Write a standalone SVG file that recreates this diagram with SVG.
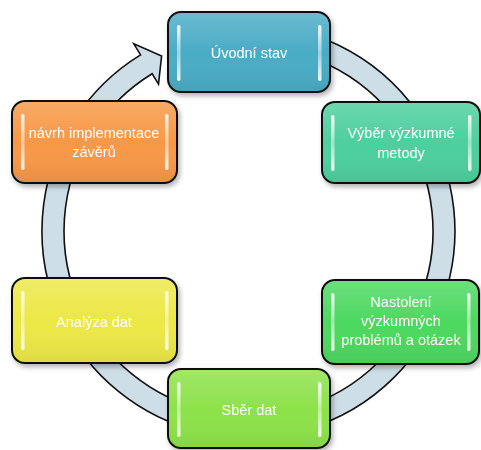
<svg xmlns="http://www.w3.org/2000/svg" width="481" height="450" viewBox="0 0 481 450">
<defs>
<filter id="sh" x="-10%" y="-10%" width="130%" height="140%">
<feDropShadow dx="2" dy="3" stdDeviation="2.5" flood-color="#000" flood-opacity="0.3"/>
</filter>
<linearGradient id="gloss" x1="0" y1="0" x2="0" y2="1">
<stop offset="0" stop-color="#fff" stop-opacity="0.18"/>
<stop offset="0.5" stop-color="#fff" stop-opacity="0"/>
<stop offset="1" stop-color="#000" stop-opacity="0.06"/>
</linearGradient>
<linearGradient id="hl" x1="0" y1="0" x2="0" y2="1">
<stop offset="0" stop-color="#fff" stop-opacity="0.9"/>
<stop offset="0.5" stop-color="#fff" stop-opacity="0.45"/>
<stop offset="1" stop-color="#fff" stop-opacity="0.9"/>
</linearGradient>
</defs>
<style>
.box{stroke:#111;stroke-width:2}
.gl{fill:url(#gloss)}
.hl{fill:url(#hl)}
.t{font-family:"Liberation Sans","Open Sans",sans-serif;font-size:14.5px;fill:#fff;text-anchor:middle}
.ring{fill:#cddee7;stroke:#111;stroke-width:1.6;stroke-linejoin:miter}
</style>
<g id="connectors">
<path class="ring" d="M248.5,24.5 A206.5,206.5 0 1 1 140.6,54.9 L133.8,43.8 L161.6,55.9 L158.5,84.1 L152.1,73.7 A184.5,184.5 0 1 0 248.5,46.5 Z"/>
</g>
<g id="n1" filter="url(#sh)">
<rect class="box" x="168" y="12" width="162" height="80" rx="13" fill="#4aacc6"/>
<rect class="gl" x="169" y="13" width="160" height="78" rx="12"/>
<rect class="hl" x="177" y="25" width="3.5" height="56" rx="1.75"/>
<rect class="hl" x="318" y="25" width="3.5" height="56" rx="1.75"/>
<text class="t" x="249" y="58">Úvodní stav</text>
</g>
<g id="n2" filter="url(#sh)">
<rect class="box" x="322" y="102" width="158" height="81" rx="13" fill="#4dcf9e"/>
<rect class="gl" x="323" y="103" width="156" height="79" rx="12"/>
<rect class="hl" x="331" y="115" width="3.5" height="56" rx="1.75"/>
<rect class="hl" x="468" y="115" width="3.5" height="56" rx="1.75"/>
<text class="t" x="401" y="138">Výběr výzkumné</text>
<text class="t" x="401" y="158">metody</text>
</g>
<g id="n3" filter="url(#sh)">
<rect class="box" x="322" y="280" width="157" height="84" rx="13" fill="#4dd860"/>
<rect class="gl" x="323" y="281" width="155" height="82" rx="12"/>
<rect class="hl" x="331" y="293" width="3.5" height="58" rx="1.75"/>
<rect class="hl" x="467" y="293" width="3.5" height="58" rx="1.75"/>
<text class="t" x="401" y="307">Nastolení</text>
<text class="t" x="401" y="326">výzkumných</text>
<text class="t" x="401" y="345">problémů a otázek</text>
</g>
<g id="n4" filter="url(#sh)">
<rect class="box" x="168" y="369" width="162" height="79" rx="13" fill="#8de24a"/>
<rect class="gl" x="169" y="370" width="160" height="77" rx="12"/>
<rect class="hl" x="177" y="382" width="3.5" height="55" rx="1.75"/>
<rect class="hl" x="318" y="382" width="3.5" height="55" rx="1.75"/>
<text class="t" x="249" y="415">Sběr dat</text>
</g>
<g id="n5" filter="url(#sh)">
<rect class="box" x="12" y="278" width="165" height="85" rx="13" fill="#ece846"/>
<rect class="gl" x="13" y="279" width="163" height="83" rx="12"/>
<rect class="hl" x="21" y="291" width="3.5" height="59" rx="1.75"/>
<rect class="hl" x="165" y="291" width="3.5" height="59" rx="1.75"/>
<text class="t" x="94" y="327">Analýza dat</text>
</g>
<g id="n6" filter="url(#sh)">
<rect class="box" x="12" y="101" width="165" height="82" rx="13" fill="#f79846"/>
<rect class="gl" x="13" y="102" width="163" height="80" rx="12"/>
<rect class="hl" x="21" y="114" width="3.5" height="56" rx="1.75"/>
<rect class="hl" x="165" y="114" width="3.5" height="56" rx="1.75"/>
<text class="t" x="94" y="138">návrh implementace</text>
<text class="t" x="94" y="157">závěrů</text>
</g>
</svg>
